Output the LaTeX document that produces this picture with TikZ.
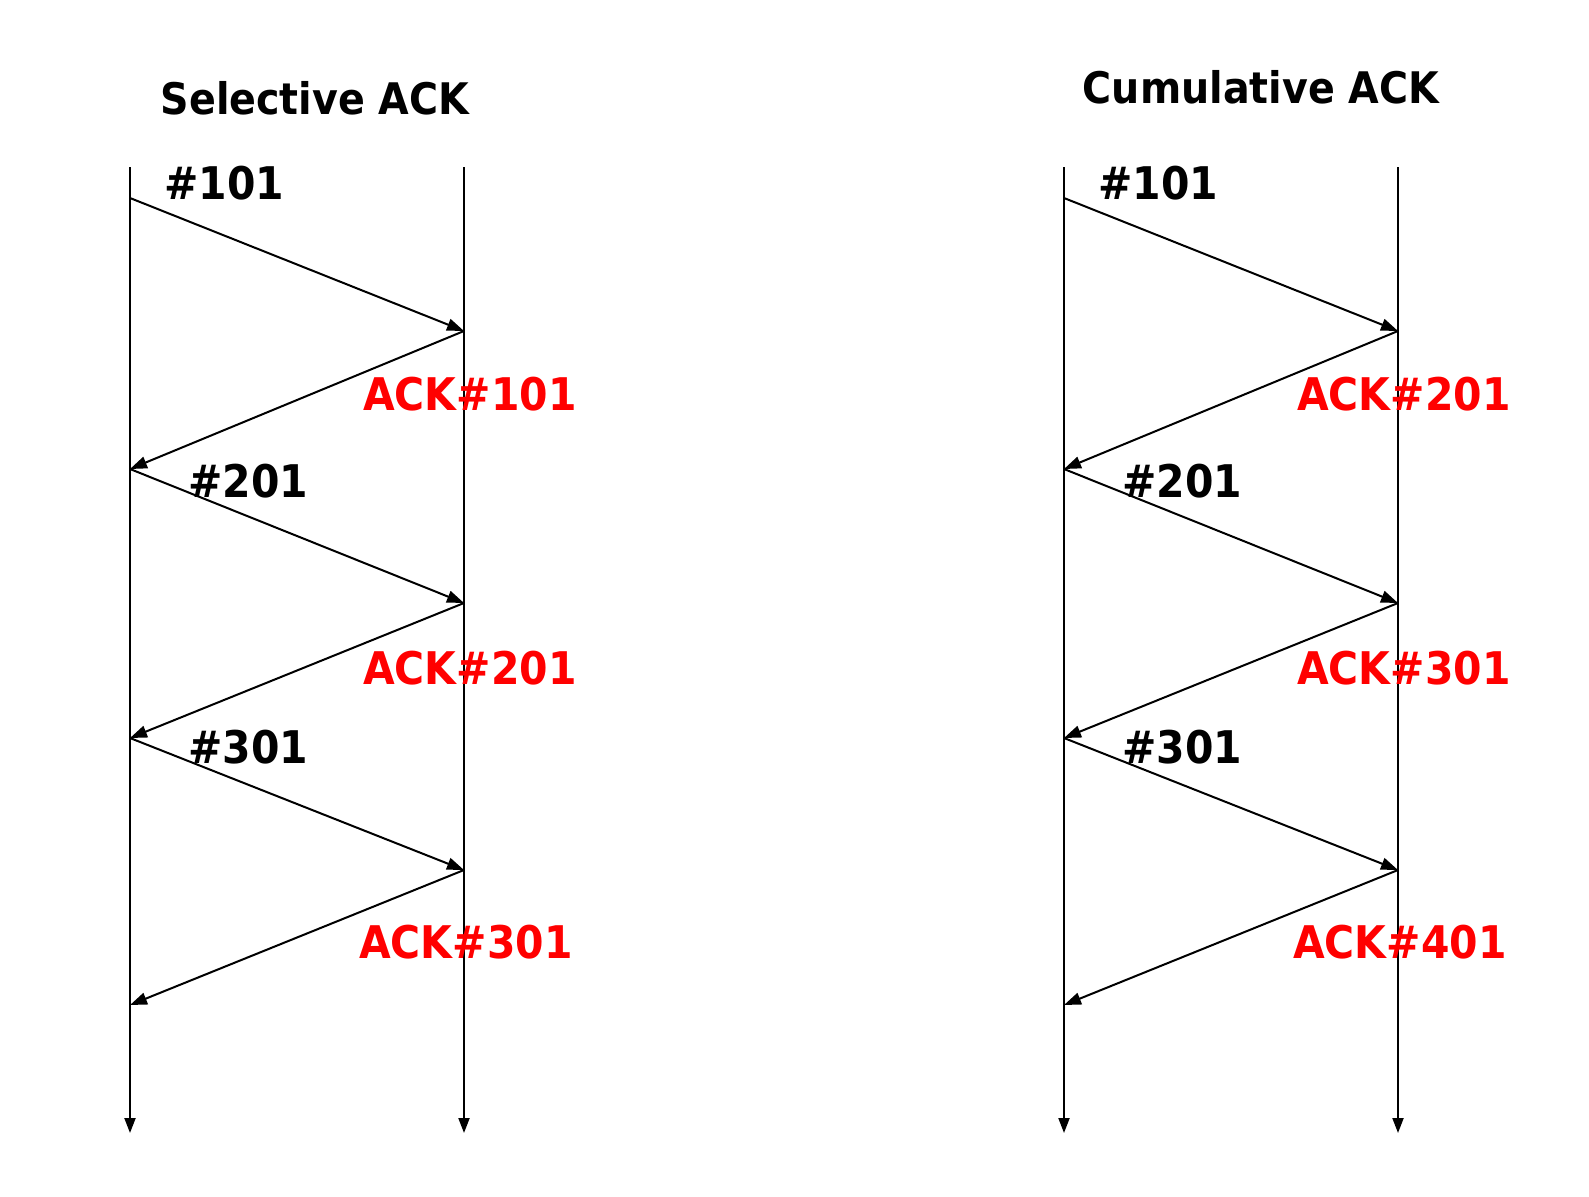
\documentclass[tikz,border=0pt]{standalone}
\usepackage{fontspec}
\setmainfont{DejaVu Sans}[BoldFont={DejaVu Sans Bold},BoldFeatures={FakeStretch=0.91}]
\usetikzlibrary{arrows.meta}
\definecolor{ackred}{RGB}{255,0,0}
\begin{document}
\begin{tikzpicture}[x=1pt,y=-1pt,
  timeline/.style={line width=2pt,-{Triangle[length=15pt,width=11pt]}},
  msg/.style={line width=2pt,-{Triangle[length=17pt,width=12pt]}},
  seqlabel/.style={anchor=base west,inner sep=0pt,font=\fontsize{45}{48}\selectfont\bfseries},
  acklabel/.style={anchor=base west,inner sep=0pt,text=ackred,font=\fontsize{45}{48}\selectfont\bfseries},
  titlelabel/.style={anchor=base,inner sep=0pt,font=\fontsize{43.5}{48}\selectfont\bfseries}]
\useasboundingbox (0,0) rectangle (1589,1196);
% Selective ACK
\node[titlelabel] (t1) at (315,115) {Selective ACK};
\coordinate (sAtop) at (130,167);
\coordinate (sAbot) at (130,1133);
\coordinate (sBtop) at (464,167);
\coordinate (sBbot) at (464,1133);
\draw[timeline] (sAtop) -- (sAbot);
\draw[timeline] (sBtop) -- (sBbot);
\coordinate (s1) at (130,198);
\coordinate (s2) at (464,331);
\coordinate (s3) at (130,469);
\coordinate (s4) at (464,603);
\coordinate (s5) at (130,738);
\coordinate (s6) at (464,870);
\coordinate (s7) at (130,1005);
\draw[msg] (s1) -- (s2);
\draw[msg] (s2) -- (s3);
\draw[msg] (s3) -- (s4);
\draw[msg] (s4) -- (s5);
\draw[msg] (s5) -- (s6);
\draw[msg] (s6) -- (s7);
\node[seqlabel] (sl1) at (164,199) {\#101};
\node[seqlabel] (sl2) at (188,497) {\#201};
\node[seqlabel] (sl3) at (188,763) {\#301};
\node[acklabel] (sa1) at (363,410) {ACK\#101};
\node[acklabel] (sa2) at (363,684) {ACK\#201};
\node[acklabel] (sa3) at (359,958) {ACK\#301};
% Cumulative ACK
\node[titlelabel] (t2) at (1261,103) {Cumulative ACK};
\coordinate (cAtop) at (1064,167);
\coordinate (cAbot) at (1064,1133);
\coordinate (cBtop) at (1398,167);
\coordinate (cBbot) at (1398,1133);
\draw[timeline] (cAtop) -- (cAbot);
\draw[timeline] (cBtop) -- (cBbot);
\coordinate (c1) at (1064,198);
\coordinate (c2) at (1398,331);
\coordinate (c3) at (1064,469);
\coordinate (c4) at (1398,603);
\coordinate (c5) at (1064,738);
\coordinate (c6) at (1398,870);
\coordinate (c7) at (1064,1005);
\draw[msg] (c1) -- (c2);
\draw[msg] (c2) -- (c3);
\draw[msg] (c3) -- (c4);
\draw[msg] (c4) -- (c5);
\draw[msg] (c5) -- (c6);
\draw[msg] (c6) -- (c7);
\node[seqlabel] (cl1) at (1098,199) {\#101};
\node[seqlabel] (cl2) at (1122,497) {\#201};
\node[seqlabel] (cl3) at (1122,763) {\#301};
\node[acklabel] (ca1) at (1297,410) {ACK\#201};
\node[acklabel] (ca2) at (1297,684) {ACK\#301};
\node[acklabel] (ca3) at (1293,958) {ACK\#401};
\end{tikzpicture}
\end{document}
